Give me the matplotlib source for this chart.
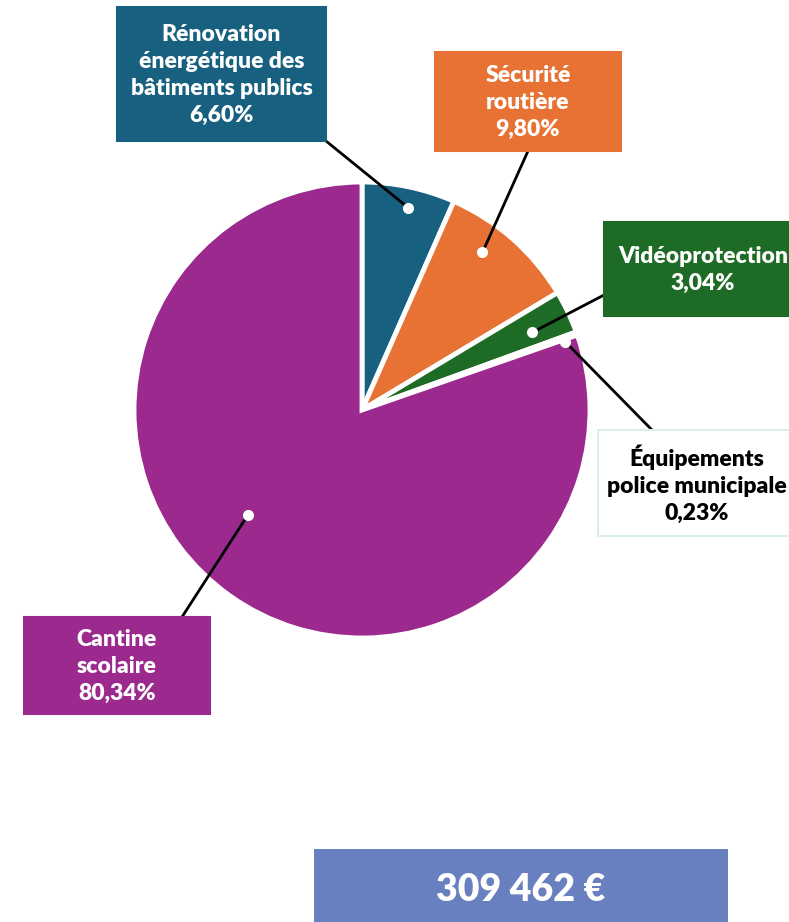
import numpy as np
import matplotlib
matplotlib.use("Agg")
import matplotlib.pyplot as plt
from matplotlib.patches import Rectangle

# --- data -------------------------------------------------------------
labels = ["Rénovation\nénergétique des\nbâtiments publics", "Sécurité\nroutière",
          "Vidéoprotection", "Équipements\npolice municipale", "Cantine\nscolaire"]
shares = [6.60, 9.80, 3.04, 0.23, 80.34]
colors = ["#17607f", "#e87234", "#1d6b24", "#eaf5f7", "#9c2a8e"]
text_colors = ["white", "white", "white", "black", "white"]
total_label = "309 462 €"

# --- layout (pixel coords, y from top) --------------------------------
W, H = 789, 922
cx, cy, R = 362, 410, 228
# label boxes: x0, y0, x1, y1
boxes = [(117, 7, 326, 141), (435, 52, 621, 151), (604, 222, 800, 316),
         (598, 430, 800, 536), (24, 617, 210, 714)]
# dot radius fraction / angle nudge, and where the leader hits the box
dot_r = [0.91, 0.87, 0.82, 0.94, 0.68]
dot_da = [-1, 4, -1, -1, -12]
hook = [(326, 141), (528, 151), (604, 295), (652, 430), (182, 617)]

plt.rcParams['font.family'] = ['Lato', 'DejaVu Sans']

fig = plt.figure(figsize=(W / 100, H / 100), dpi=100)
ax = fig.add_axes([0, 0, 1, 1])

def Y(py):
    return H - py

wedges, _ = ax.pie(shares, colors=colors, startangle=90, counterclock=False,
                   center=(cx, Y(cy)), radius=R, frame=True,
                   wedgeprops=dict(edgecolor='white', linewidth=3.5))
ax.set_xlim(0, W)
ax.set_ylim(0, H)
ax.set_aspect('equal')
ax.axis('off')

for i, w in enumerate(wedges):
    mid = np.deg2rad((w.theta1 + w.theta2) / 2 + dot_da[i])
    dx = cx + dot_r[i] * R * np.cos(mid)
    dy = Y(cy) + dot_r[i] * R * np.sin(mid)
    hx, hy = hook[i]
    ax.plot([dx, hx], [dy, Y(hy)], color='black', lw=2, zorder=3,
            solid_capstyle='butt')
    ax.plot(dx, dy, 'o', color='white', ms=8, mec='none', zorder=4)

    x0, y0, x1, y1 = boxes[i]
    light = colors[i] == "#eaf5f7"
    ax.add_patch(Rectangle((x0, Y(y1)), x1 - x0, y1 - y0,
                           facecolor='white' if light else colors[i],
                           edgecolor='#dcedf0' if light else colors[i],
                           lw=1.5, zorder=5))
    txt = labels[i] + "\n" + f"{shares[i]:.2f}".replace('.', ',') + "%"
    tx = (x0 + x1) / 2 if x1 <= W else x0 + 99
    ax.text(tx, Y((y0 + y1) / 2) - 1, txt, ha='center', va='center',
            color=text_colors[i], fontsize=16.5, fontweight='heavy',
            linespacing=1.36, zorder=6)

# total box
ax.add_patch(Rectangle((314, 0), 414, Y(849), facecolor='#6880bf',
                       edgecolor='none', zorder=5))
ax.text(521, Y(890), total_label, ha='center', va='center', color='white',
        fontsize=27, fontweight='heavy', zorder=6)

fig.savefig('out.png', dpi=100)
